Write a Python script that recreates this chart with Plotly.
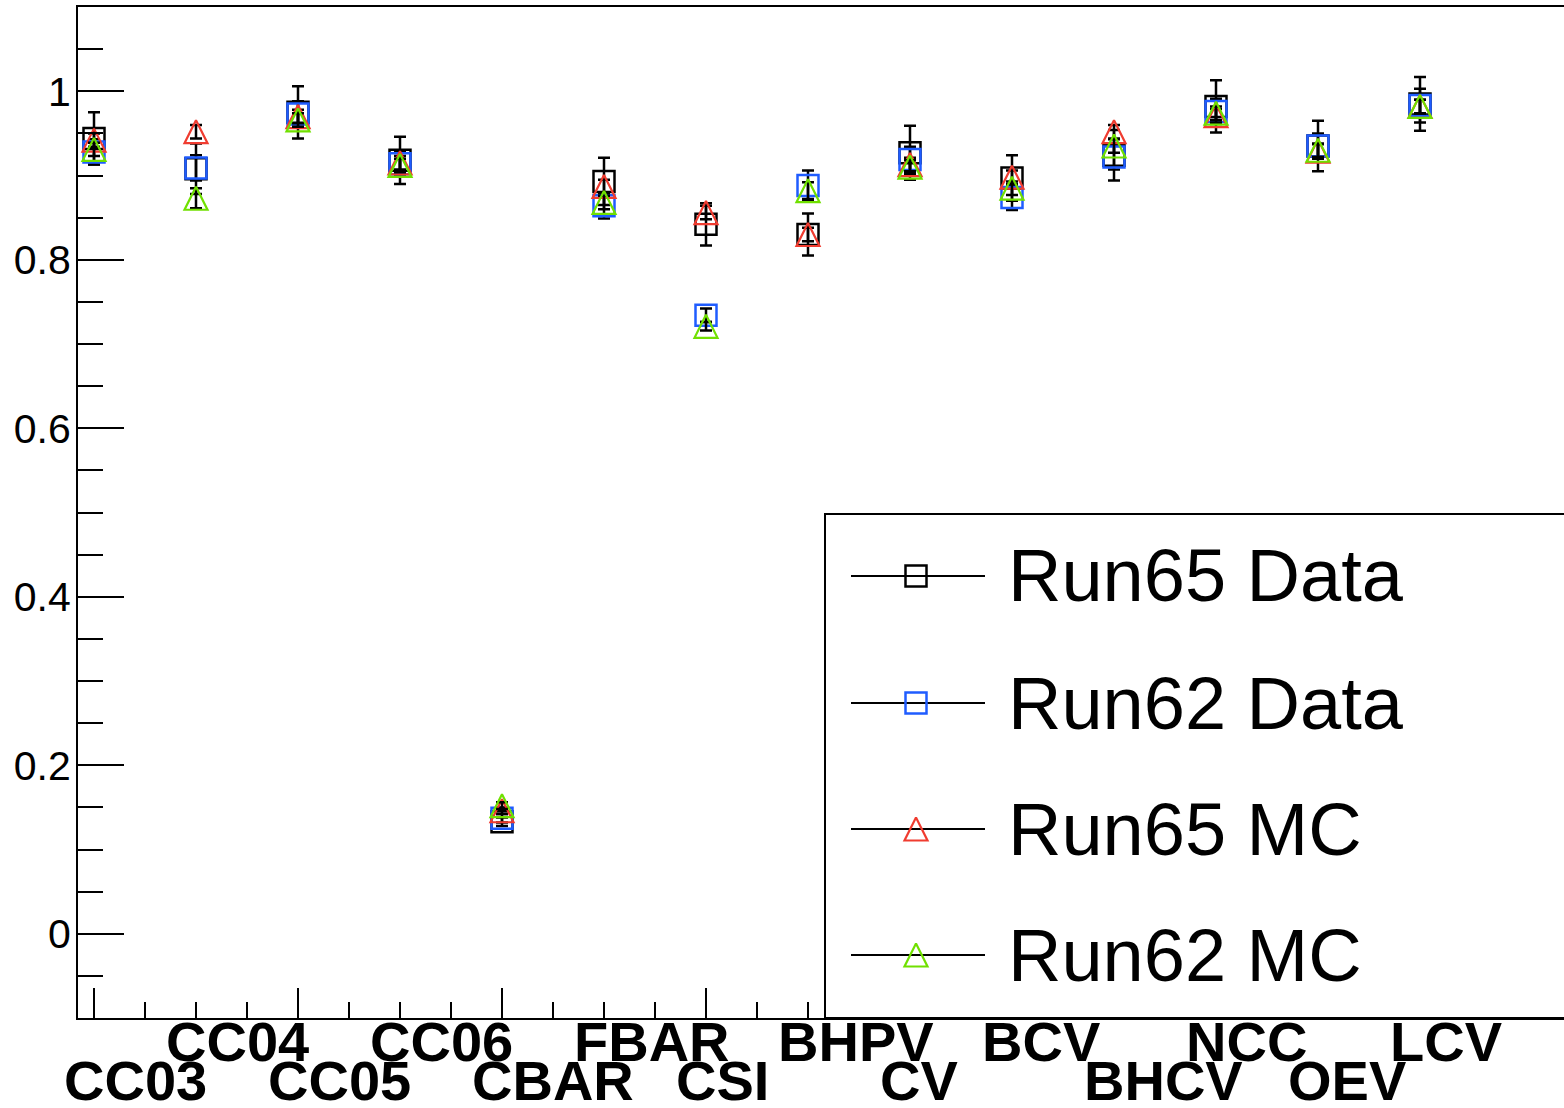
import plotly.graph_objects as go

# ---------------- data ----------------
categories = ["CC03", "CC04", "CC05", "CC06", "CBAR", "FBAR", "CSI",
              "BHPV", "CV", "BCV", "BHCV", "NCC", "OEV", "LCV"]

run65_data = [0.944, 0.908, 0.975, 0.918, 0.133, 0.893, 0.842,
              0.830, 0.927, 0.897, 0.924, 0.982, 0.935, 0.985]
run65_data_err = [0.031, 0.030, 0.031, 0.028, 0.005, 0.028, 0.025,
                  0.025, 0.032, 0.027, 0.030, 0.031, 0.030, 0.032]

run62_data = [0.928, 0.909, 0.973, 0.914, 0.137, 0.864, 0.734,
              0.888, 0.919, 0.874, 0.922, 0.976, 0.935, 0.983]
run62_data_err = [0.015, 0.015, 0.015, 0.015, 0.005, 0.015, 0.008,
                  0.018, 0.015, 0.015, 0.015, 0.015, 0.015, 0.020]

run65_mc = [0.942, 0.952, 0.970, 0.915, 0.146, 0.887, 0.856,
            0.830, 0.913, 0.898, 0.952, 0.971, 0.929, 0.982]
run65_mc_err = [0.008, 0.008, 0.008, 0.008, 0.004, 0.008, 0.008,
                0.008, 0.008, 0.008, 0.008, 0.008, 0.008, 0.008]

run62_mc = [0.931, 0.873, 0.966, 0.912, 0.152, 0.868, 0.721,
            0.882, 0.910, 0.885, 0.935, 0.974, 0.930, 0.982]
run62_mc_err = [0.008, 0.012, 0.008, 0.008, 0.004, 0.008, 0.005,
                0.010, 0.008, 0.008, 0.008, 0.008, 0.008, 0.008]

series_names = ["Run65 Data", "Run62 Data", "Run65 MC", "Run62 MC"]
series_values = [run65_data, run62_data, run65_mc, run62_mc]
series_errors = [run65_data_err, run62_data_err, run65_mc_err, run62_mc_err]
series_colors = ["#000000", "#1f5cff", "#f03c30", "#70e000"]
series_kind = ["square", "square", "triangle", "triangle"]

y_tick_vals = [0, 0.2, 0.4, 0.6, 0.8, 1.0]
y_tick_text = ["0", "0.2", "0.4", "0.6", "0.8", "1"]

# ---------------- geometry (pixels) ----------------
W, H = 1564, 1108
PL, PR, PT, PB = 78, 1564, 7, 1018
PW, PH = PR - PL, PB - PT


def px_x(px):
    return (px - PL) / PW


def px_y(py):
    return (PB - py) / PH


SQ_SIZE = 21
TRI_SIZE = 23


def marker_for(kind, color):
    if kind == "square":
        return dict(symbol="square-open", size=SQ_SIZE, color=color,
                    line=dict(color=color, width=2.5))
    return dict(symbol="arrow-down-open", size=TRI_SIZE, color=color,
                angle=180, standoff=TRI_SIZE / 2,
                line=dict(color=color, width=2.2))


fig = go.Figure()
xs = list(range(len(categories)))
for name, vals, errs, color, kind in zip(series_names, series_values,
                                         series_errors, series_colors, series_kind):
    fig.add_trace(go.Scatter(
        x=xs, y=vals, mode="markers", name=name,
        marker=marker_for(kind, color),
        error_y=dict(type="data", array=errs, visible=True, color="black",
                     thickness=2.5, width=6),
        showlegend=False, cliponaxis=False,
    ))

# ---------------- legend (drawn ROOT-style) ----------------
leg_rows_px = [576, 703, 829, 955]
shapes = [dict(type="rect", xref="paper", yref="paper",
               x0=px_x(825), x1=1.01, y0=0, y1=px_y(514),
               line=dict(color="black", width=2), fillcolor="white", layer="below")]
annotations = []
for name, color, kind, ry in zip(series_names, series_colors, series_kind, leg_rows_px):
    shapes.append(dict(type="line", xref="paper", yref="paper",
                       x0=px_x(851), x1=px_x(985), y0=px_y(ry), y1=px_y(ry),
                       line=dict(color="black", width=2), layer="below"))
    fig.add_trace(go.Scatter(
        x=[px_x(916)], y=[px_y(ry)], mode="markers", xaxis="x2", yaxis="y2",
        marker=marker_for(kind, color), showlegend=False, hoverinfo="skip",
        cliponaxis=False))
    annotations.append(dict(xref="paper", yref="paper", x=px_x(1006), y=px_y(ry),
                            xanchor="left", yanchor="middle", text=name, showarrow=False,
                            font=dict(family="Liberation Sans", size=74, color="black")))

# ---------------- category labels (two staggered rows) ----------------
for i, cat in enumerate(categories):
    row_py = 1041 if i % 2 == 1 else 1080
    annotations.append(dict(xref="x", yref="paper", x=i, y=px_y(row_py),
                            xanchor="left", yanchor="middle", xshift=-32,
                            text=cat, showarrow=False,
                            font=dict(family="Liberation Sans", size=56,
                                      color="black", weight="bold")))

x_lo = (PL - 94) / 102.0
x_hi = (PR - 94) / 102.0

fig.update_layout(
    width=W, height=H,
    margin=dict(l=PL, r=W - PR, t=PT, b=H - PB, pad=0),
    paper_bgcolor="white", plot_bgcolor="white",
    showlegend=False,
    font=dict(family="Liberation Sans", color="black"),
    xaxis=dict(range=[x_lo, x_hi], showline=True, linecolor="black", linewidth=2,
               mirror=True, ticks="inside", tickmode="array", tickvals=[0, 2, 4, 6],
               ticklen=30, tickwidth=2, tickcolor="black", showticklabels=False,
               showgrid=False, zeroline=False,
               minor=dict(tickmode="array",
                          tickvals=[0.5, 1, 1.5, 2.5, 3, 3.5, 4.5, 5, 5.5, 6.5, 7],
                          ticks="inside", ticklen=16, tickwidth=2, tickcolor="black",
                          showgrid=False)),
    yaxis=dict(range=[-0.1, 1.1], showline=True, linecolor="black", linewidth=2,
               mirror=False, ticks="inside", tickmode="array", tickvals=y_tick_vals,
               ticktext=y_tick_text,
               ticklen=46, tickwidth=2, tickcolor="black",
               tickfont=dict(family="Liberation Sans", size=41, color="black"),
               ticklabelstandoff=-3,
               showgrid=False, zeroline=False,
               minor=dict(dtick=0.05, tick0=0, ticks="inside", ticklen=25, tickwidth=2,
                          tickcolor="black", showgrid=False)),
    xaxis2=dict(overlaying="x", range=[0, 1], visible=False),
    yaxis2=dict(overlaying="y", range=[0, 1], visible=False),
    shapes=shapes,
    annotations=annotations,
)

fig.write_html("out.html", config={"displayModeBar": False},
               post_script="document.body.style.margin='0';")
